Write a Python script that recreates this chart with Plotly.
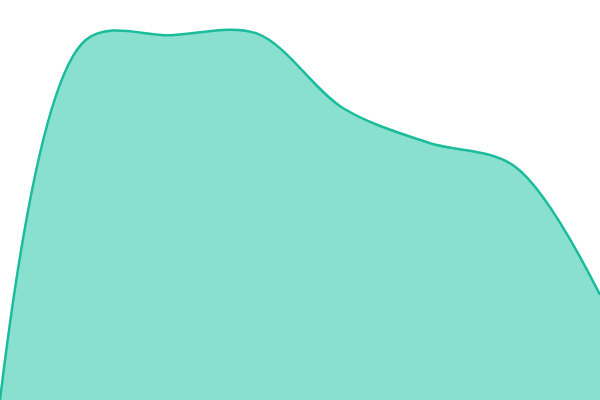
import plotly.graph_objects as go

# Data
steps = [0, 1, 2, 3, 4, 5, 6, 7]
values = [0, 90, 91.2, 91.6, 73, 64.3, 58.5, 26.3]

fig = go.Figure(go.Scatter(
    x=steps,
    y=values,
    mode='lines',
    line=dict(color='#1abc9c', width=2.5, shape='spline', smoothing=0.95),
    fill='tozeroy',
    fillcolor='#8ae0cf',
    hoverinfo='skip',
))

fig.update_layout(
    width=600, height=400,
    margin=dict(l=0, r=0, t=0, b=0),
    paper_bgcolor='white', plot_bgcolor='white',
    showlegend=False,
    xaxis=dict(visible=False, range=[0, 7]),
    yaxis=dict(visible=False, range=[0, 100]),
)

fig.write_html("out.html", config={'displayModeBar': False},
               post_script="document.body.style.margin='0';")
